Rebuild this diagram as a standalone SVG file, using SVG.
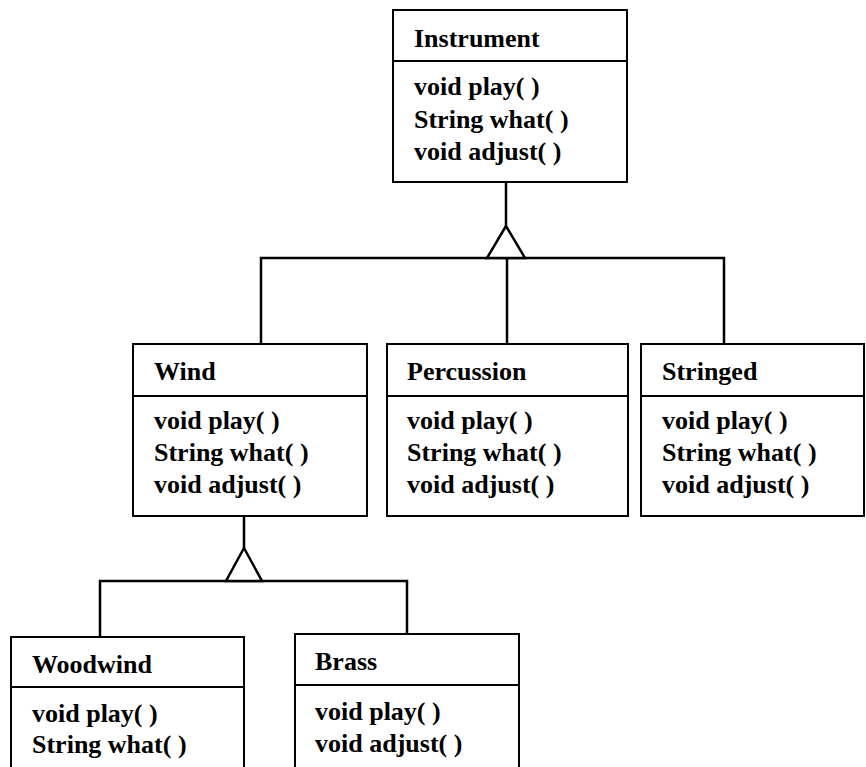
<svg xmlns="http://www.w3.org/2000/svg" width="866" height="767" viewBox="0 0 866 767">
<style>
.box{fill:#fff;stroke:#000;stroke-width:2}
.div{stroke:#000;stroke-width:2}
.t{font-family:"Liberation Serif","Times New Roman",serif;font-weight:bold;font-size:26px;fill:#000}
.c{fill:none;stroke:#000;stroke-width:2.5}
.tri{fill:#fff;stroke:#000;stroke-width:2.5;stroke-linejoin:miter}
</style>
<rect width="866" height="767" fill="#fff"/>
<g id="connectors">
<line class="c" x1="506" y1="182" x2="506" y2="226"/>
<polyline class="c" points="261,344 261,258 724,258 724,344"/>
<line class="c" x1="507" y1="258" x2="507" y2="344"/>
<polygon class="tri" points="506,226 487,258 525,258"/>
<line class="c" x1="244" y1="516" x2="244" y2="548"/>
<polyline class="c" points="100,637 100,581 407,581 407,634"/>
<polygon class="tri" points="244,548 226,581 262,581"/>
</g>
<g id="instrument">
<rect class="box" x="393" y="10" width="234" height="172"/>
<line class="div" x1="393" y1="61" x2="627" y2="61"/>
<text class="t" x="414" y="47">Instrument</text>
<text class="t" x="414" y="95">void play( )</text>
<text class="t" x="414" y="128">String what( )</text>
<text class="t" x="414" y="160">void adjust( )</text>
</g>
<g id="wind">
<rect class="box" x="133" y="344" width="234" height="172"/>
<line class="div" x1="133" y1="396" x2="367" y2="396"/>
<text class="t" x="154" y="380">Wind</text>
<text class="t" x="154" y="429">void play( )</text>
<text class="t" x="154" y="461">String what( )</text>
<text class="t" x="154" y="493">void adjust( )</text>
</g>
<g id="percussion">
<rect class="box" x="387" y="344" width="241" height="172"/>
<line class="div" x1="387" y1="396" x2="628" y2="396"/>
<text class="t" x="407" y="380">Percussion</text>
<text class="t" x="407" y="429">void play( )</text>
<text class="t" x="407" y="461">String what( )</text>
<text class="t" x="407" y="493">void adjust( )</text>
</g>
<g id="stringed">
<rect class="box" x="641" y="344" width="223" height="172"/>
<line class="div" x1="641" y1="396" x2="864" y2="396"/>
<text class="t" x="662" y="380">Stringed</text>
<text class="t" x="662" y="429">void play( )</text>
<text class="t" x="662" y="461">String what( )</text>
<text class="t" x="662" y="493">void adjust( )</text>
</g>
<g id="woodwind">
<rect class="box" x="11" y="637" width="233" height="140"/>
<line class="div" x1="11" y1="687" x2="244" y2="687"/>
<text class="t" x="32" y="673">Woodwind</text>
<text class="t" x="32" y="722">void play( )</text>
<text class="t" x="32" y="753">String what( )</text>
</g>
<g id="brass">
<rect class="box" x="295" y="634" width="224" height="143"/>
<line class="div" x1="295" y1="685" x2="519" y2="685"/>
<text class="t" x="315" y="670">Brass</text>
<text class="t" x="315" y="720">void play( )</text>
<text class="t" x="315" y="752">void adjust( )</text>
</g>
</svg>
